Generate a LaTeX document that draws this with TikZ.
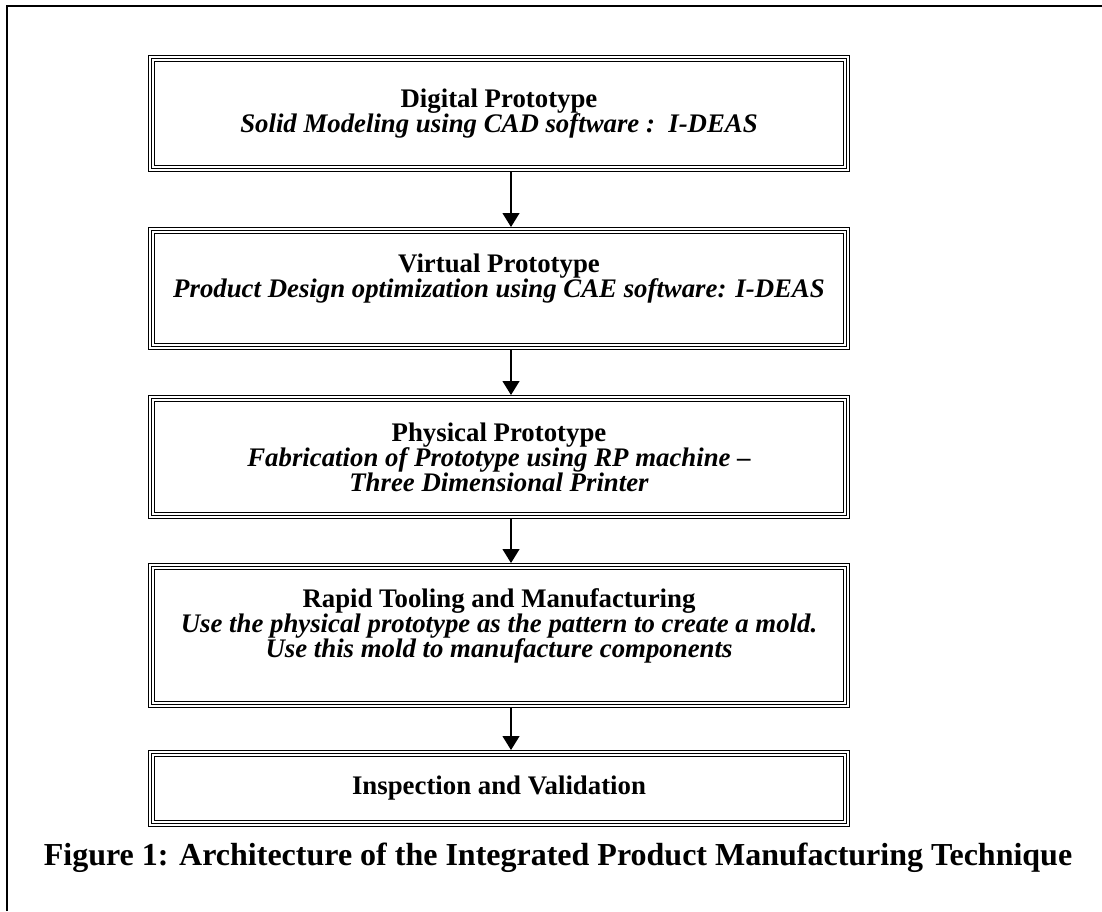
\documentclass[tikz,border=0pt]{standalone}
\usepackage{fontspec}
\setmainfont{Liberation Serif}
\usetikzlibrary{positioning,arrows.meta}

\tikzset{
  stagebox/.style={draw, line width=3.6pt,
    postaction={draw=white, line width=2.2pt},
    postaction={draw=black, line width=0.8pt},
    minimum width=347.4pt, align=center, inner sep=2pt,
    font=\fontsize{13.4}{12.5}\selectfont\bfseries},
  flow/.style={-{Triangle[length=7pt,width=8.5pt]}, line width=0.6pt},
}

\begin{document}
\begin{tikzpicture}[x=0.5pt, y=-0.5pt, node distance=22pt]
    \useasboundingbox (0,0) rectangle (1102,911);
    % frame round the figure
    \draw[line width=1pt] (7,911) -- (7,6) -- (1102,6);

    \node[stagebox, minimum height=54.9pt, anchor=north] (digital) at (499,55)
        {Digital Prototype\\ \itshape Solid Modeling using CAD software :~~I-DEAS};
    \node[stagebox, minimum height=57.9pt, below=27.5pt of digital] (virtual)
        {Virtual Prototype\\ \itshape Product Design optimization using CAE software: I-DEAS\\ \mbox{}};
    \node[stagebox, minimum height=58.4pt, below=22.5pt of virtual] (physical)
        {Physical Prototype\\ \itshape Fabrication of Prototype using RP machine \upshape --\\ \itshape Three Dimensional Printer};
    \node[stagebox, minimum height=68.9pt, below=of physical] (tooling)
        {Rapid Tooling and Manufacturing\\ \itshape Use the physical prototype as the pattern to create a mold.\\ \itshape Use this mold to manufacture components\\ \mbox{}};
    \node[stagebox, minimum height=34.9pt, below=21pt of tooling] (inspect)
        {Inspection and Validation};

    \foreach \a/\b in {digital/virtual, virtual/physical, physical/tooling, tooling/inspect}
        \draw[flow] ([xshift=6pt]\a.south) -- ([xshift=6pt]\b.north);

    \node[font=\fontsize{16}{18}\selectfont\bfseries] (caption) at (558,858)
        {Figure 1: Architecture of the Integrated Product Manufacturing Technique};
\end{tikzpicture}
\end{document}
